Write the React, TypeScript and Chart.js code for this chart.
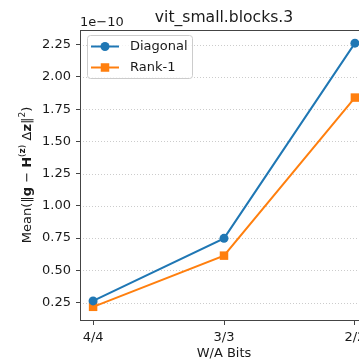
import React, { useEffect, useRef } from "react";
import { Chart, registerables } from "chart.js";

Chart.register(...registerables);

// ---- data (values in units of 1e-10) ----
const categories = ["4/4", "3/3", "2/2"];
const diagonal = [0.263, 0.748, 2.262];
const rank1 = [0.217, 0.614, 1.84];
const yTicks = [0.25, 0.5, 0.75, 1.0, 1.25, 1.5, 1.75, 2.0, 2.25];
const offsetText = "1e\u221210";
const titleText = "vit_small.blocks.3";
const xLabelText = "W/A Bits";
const seriesNames = ["Diagonal", "Rank-1"];

const FONT = "'DejaVu Sans', sans-serif";
const TEXT = "#1a1a1a";
const SPINE = "#444";

export default function App() {
  const ref = useRef<HTMLCanvasElement>(null);

  useEffect(() => {
    const canvas = ref.current!;
    const all = [...diagonal, ...rank1];
    const lo = Math.min(...all);
    const hi = Math.max(...all);
    const my = (hi - lo) * 0.05;
    const mx = (categories.length - 1) * 0.05;

    const overlay = {
      id: "overlay",
      beforeDatasetsDraw(chart: any) {
        const { ctx, chartArea: a, scales } = chart;
        const y = scales.y;
        ctx.save();
        ctx.strokeStyle = "rgba(170,170,170,0.6)";
        ctx.lineWidth = 1;
        ctx.setLineDash([1, 2]);
        yTicks.forEach((v) => {
          const py = Math.round(y.getPixelForValue(v)) + 0.5;
          ctx.beginPath();
          ctx.moveTo(a.left, py);
          ctx.lineTo(a.right, py);
          ctx.stroke();
        });
        ctx.restore();
      },
      afterDraw(chart: any) {
        const { ctx, chartArea: a } = chart;
        ctx.save();
        // spines
        ctx.strokeStyle = SPINE;
        ctx.lineWidth = 1;
        ctx.strokeRect(a.left + 0.5, a.top + 0.5, a.right - a.left, a.bottom - a.top);

        // title
        ctx.fillStyle = TEXT;
        ctx.font = `15.6px ${FONT}`;
        ctx.textAlign = "center";
        ctx.textBaseline = "alphabetic";
        ctx.fillText(titleText, (a.left + a.right) / 2, 22);

        // offset text
        ctx.font = `13px ${FONT}`;
        ctx.textAlign = "left";
        ctx.fillText(offsetText, a.left, 26);

        // x label
        ctx.textAlign = "center";
        ctx.fillText(xLabelText, (a.left + a.right) / 2, 357);

        // y label (mixed fonts)
        const segs: [string, string, number][] = [
          ["Mean(", `13px ${FONT}`, 0],
          ["\u2016", `13px ${FONT}`, 0],
          ["g", `bold 13px ${FONT}`, 0],
          [" \u2212 ", `13px ${FONT}`, 0],
          ["H", `bold 13px ${FONT}`, 0],
          ["(", `9px ${FONT}`, -5],
          ["z", `bold 9px ${FONT}`, -5],
          [")", `9px ${FONT}`, -5],
          [" \u0394", `13px ${FONT}`, 0],
          ["z", `bold 13px ${FONT}`, 0],
          ["\u2016", `13px ${FONT}`, 0],
          ["2", `9px ${FONT}`, -5],
          [")", `13px ${FONT}`, 0],
        ];
        let total = 0;
        segs.forEach(([t, f]) => {
          ctx.font = f;
          total += ctx.measureText(t).width;
        });
        ctx.translate(28, (a.top + a.bottom) / 2);
        ctx.rotate(-Math.PI / 2);
        ctx.textAlign = "left";
        ctx.textBaseline = "middle";
        let x = -total / 2;
        segs.forEach(([t, f, dy]) => {
          ctx.font = f;
          ctx.fillText(t, x, dy);
          x += ctx.measureText(t).width;
        });
        ctx.setTransform(1, 0, 0, 1, 0, 0);

        // legend
        const lx = 87.5, ly = 35.5, lw = 105, lh = 43;
        ctx.fillStyle = "rgba(255,255,255,0.8)";
        ctx.strokeStyle = "#cccccc";
        ctx.lineWidth = 1;
        ctx.beginPath();
        ctx.roundRect(lx, ly, lw, lh, 3);
        ctx.fill();
        ctx.stroke();
        const dsets = chart.data.datasets;
        const rows = [46.5, 67.5];
        dsets.forEach((ds: any, i: number) => {
          const yy = rows[i];
          ctx.strokeStyle = ds.borderColor;
          ctx.lineWidth = 2;
          ctx.beginPath();
          ctx.moveTo(91, yy);
          ctx.lineTo(119, yy);
          ctx.stroke();
          ctx.fillStyle = ds.backgroundColor;
          if (ds.pointStyle === "rect") {
            ctx.fillRect(105 - 4.25, yy - 4.25, 8.5, 8.5);
          } else {
            ctx.beginPath();
            ctx.arc(105, yy, 4.5, 0, Math.PI * 2);
            ctx.fill();
          }
          ctx.fillStyle = TEXT;
          ctx.font = `13px ${FONT}`;
          ctx.textAlign = "left";
          ctx.textBaseline = "middle";
          ctx.fillText(seriesNames[i], 130, yy);
        });
        ctx.restore();
      },
    };

    const chart = new Chart(canvas, {
      type: "line",
      data: {
        datasets: [
          {
            label: seriesNames[0],
            data: diagonal.map((v, i) => ({ x: i, y: v })),
            borderColor: "#1f77b4",
            backgroundColor: "#1f77b4",
            borderWidth: 2,
            pointStyle: "circle",
            pointRadius: 4.5,
            pointBorderWidth: 0,
            tension: 0,
          },
          {
            label: seriesNames[1],
            data: rank1.map((v, i) => ({ x: i, y: v })),
            borderColor: "#ff7f0e",
            backgroundColor: "#ff7f0e",
            borderWidth: 2,
            pointStyle: "rect",
            pointRadius: 6,
            pointBorderWidth: 0,
            tension: 0,
          },
        ],
      },
      options: {
        animation: false,
        responsive: false,
        maintainAspectRatio: false,
        devicePixelRatio: 1,
        layout: { padding: { left: 0, top: 30, right: 12, bottom: 0 } },
        plugins: {
          legend: { display: false },
          title: { display: false },
          tooltip: { enabled: false },
        },
        scales: {
          x: {
            type: "linear",
            min: -mx,
            max: categories.length - 1 + mx,
            afterBuildTicks: (s: any) => {
              s.ticks = categories.map((_, i) => ({ value: i }));
            },
            afterFit: (s: any) => {
              s.height = 44;
            },
            ticks: {
              autoSkip: false,
              maxRotation: 0,
              padding: 5,
              color: TEXT,
              font: { family: FONT, size: 13 },
              callback: (v: any) => categories[Math.round(v)] ?? "",
            },
            grid: {
              drawOnChartArea: false,
              drawTicks: true,
              tickLength: 5,
              tickColor: SPINE,
              color: SPINE,
            },
            border: { display: false },
          },
          y: {
            type: "linear",
            min: lo - my,
            max: hi + my,
            afterBuildTicks: (s: any) => {
              s.ticks = yTicks.map((v) => ({ value: v }));
            },
            afterFit: (s: any) => {
              s.width = 80;
            },
            ticks: {
              autoSkip: false,
              padding: 5,
              color: TEXT,
              font: { family: FONT, size: 13 },
              callback: (v: any) => Number(v).toFixed(2),
            },
            grid: {
              drawOnChartArea: false,
              drawTicks: true,
              tickLength: 4,
              tickColor: SPINE,
              color: SPINE,
            },
            border: { display: false },
          },
        },
      },
      plugins: [overlay],
    } as any);

    return () => chart.destroy();
  }, []);

  return (
    <div
      style={{
        position: "fixed",
        left: 0,
        top: 0,
        width: 359,
        height: 364,
        overflow: "hidden",
        background: "#fff",
      }}
    >
      <canvas ref={ref} width={380} height={364} style={{ display: "block" }} />
    </div>
  );
}
